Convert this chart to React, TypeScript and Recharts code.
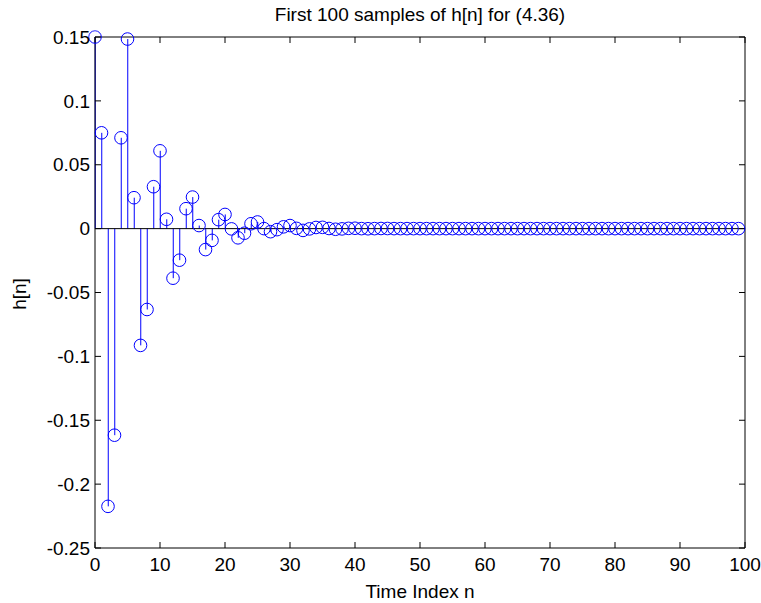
import { ComposedChart, Bar, Line, XAxis, YAxis, ReferenceLine } from "recharts";

// h[n], n = 0..99
const hValues = [
  0.15, 0.075, -0.2174, -0.1617, 0.0711, 0.1484, 0.0242, -0.0914, -0.0633, 0.0328,
  0.0609, 0.0073, -0.0388, -0.0247, 0.0156, 0.0247, 0.0024, -0.0164, -0.0092, 0.007,
  0.0111, -0.0002, -0.0072, -0.0036, 0.0038, 0.0052, 0.0, -0.0024, -0.0008, 0.0014,
  0.0024, 0.0002, -0.0014, -0.0002, 0.0009, 0.001, 0.0001, -0.0005, -0.0002, 0.0002,
  0.0003, 0.0, -0.0001, 0.0, 0.0001, 0.0001, 0.0, 0.0, 0.0, 0.0,
  0.0, 0.0, 0.0, 0.0, 0.0, 0.0, 0.0, 0.0, 0.0, 0.0,
  0.0, 0.0, 0.0, 0.0, 0.0, 0.0, 0.0, 0.0, 0.0, 0.0,
  0.0, 0.0, 0.0, 0.0, 0.0, 0.0, 0.0, 0.0, 0.0, 0.0,
  0.0, 0.0, 0.0, 0.0, 0.0, 0.0, 0.0, 0.0, 0.0, 0.0,
  0.0, 0.0, 0.0, 0.0, 0.0, 0.0, 0.0, 0.0, 0.0, 0.0
];
const xTicks = [0, 10, 20, 30, 40, 50, 60, 70, 80, 90, 100];
const yTicks = [-0.25, -0.2, -0.15, -0.1, -0.05, 0, 0.05, 0.1, 0.15];
const xDomain = [0, 100];
const yDomain = [-0.25, 0.15];

const title = "First 100 samples of h[n] for (4.36)";
const xLabel = "Time Index n";
const yLabel = "h[n]";

const font = "Arial, 'Liberation Sans', sans-serif";
const blue = "#0000ff";
const ink = "#000000";
const fontSize = 19;
const xGap = 10;
const yGap = 5;
const tickLen = 6;
const noLabel = () => "";

const data = hValues.map((h, n) => ({ n, h }));

function Stem(props: any) {
  const { x, y, width, height } = props;
  if (x == null || y == null) return null;
  const cx = x + width / 2;
  return <line x1={cx} x2={cx} y1={y} y2={y + height} stroke={blue} strokeWidth={1} />;
}

// label plus an inward tick mark (matlab style)
function BottomTick({ x, y, payload }: any) {
  const axisY = y - xGap;
  return (
    <g>
      <line x1={x} x2={x} y1={axisY} y2={axisY - tickLen} stroke={ink} />
      <text x={x} y={y} dy="0.71em" textAnchor="middle" fontSize={fontSize} fontFamily={font} fill={ink}>
        {payload.value}
      </text>
    </g>
  );
}

function LeftTick({ x, y, payload }: any) {
  const axisX = x + yGap;
  return (
    <g>
      <line x1={axisX} x2={axisX + tickLen} y1={y} y2={y} stroke={ink} />
      <text x={x} y={y} dy="0.355em" textAnchor="end" fontSize={fontSize} fontFamily={font} fill={ink}>
        {String(Number(Number(payload.value).toFixed(2)))}
      </text>
    </g>
  );
}

export default function App() {
  return (
    <div style={{ position: "absolute", left: 0, top: 0, width: 761, height: 603, background: "#fff" }}>
      <ComposedChart width={761} height={603} data={data} margin={{ top: 37, right: 16, bottom: 0, left: 0 }}>
        <XAxis
          xAxisId="b"
          dataKey="n"
          type="number"
          domain={xDomain}
          ticks={xTicks}
          tick={<BottomTick />}
          tickLine={false}
          tickSize={0}
          tickMargin={xGap}
          height={55}
          stroke={ink}
          interval={0}
        />
        <XAxis xAxisId="t" dataKey="n" orientation="top" type="number" domain={xDomain} ticks={xTicks} tickFormatter={noLabel} mirror tickSize={tickLen} height={30} stroke={ink} interval={0} />
        <YAxis
          yAxisId="l"
          type="number"
          domain={yDomain}
          ticks={yTicks}
          tick={<LeftTick />}
          tickLine={false}
          tickSize={0}
          tickMargin={yGap}
          width={95}
          stroke={ink}
          interval={0}
          allowDataOverflow
        />
        <YAxis yAxisId="r" orientation="right" type="number" domain={yDomain} ticks={yTicks} tickFormatter={noLabel} mirror tickSize={tickLen} width={30} stroke={ink} interval={0} allowDataOverflow />
        <ReferenceLine xAxisId="b" yAxisId="l" y={0} stroke={ink} strokeWidth={1} />
        <Bar xAxisId="b" yAxisId="l" dataKey="h" barSize={1} shape={<Stem />} isAnimationActive={false} />
        <Line
          xAxisId="b"
          yAxisId="l"
          dataKey="h"
          stroke="none"
          dot={{ r: 6.3, fill: "none", stroke: blue, strokeWidth: 1, clipDot: false }}
          activeDot={false}
          isAnimationActive={false}
        />
        {/* invisible series so the top/right tick axes get drawn */}
        <Line xAxisId="t" yAxisId="r" dataKey="h" stroke="none" dot={false} activeDot={false} isAnimationActive={false} />
      </ComposedChart>
      <svg width={761} height={603} style={{ position: "absolute", left: 0, top: 0, pointerEvents: "none" }}>
        <text x={420} y={20.5} textAnchor="middle" fontSize={fontSize} fontFamily={font} fill={ink}>
          {title}
        </text>
        <text x={420} y={598} textAnchor="middle" fontSize={fontSize} fontFamily={font} fill={ink}>
          {xLabel}
        </text>
        <text x={26} y={294} textAnchor="middle" fontSize={fontSize} fontFamily={font} fill={ink} transform="rotate(-90 26 294)">
          {yLabel}
        </text>
      </svg>
    </div>
  );
}
